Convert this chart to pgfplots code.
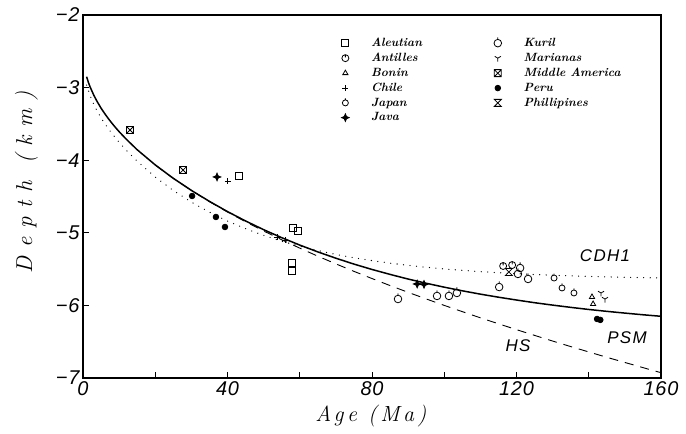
\documentclass[border=0pt]{standalone}
\usepackage{fontspec}
\usepackage{pgfplots}
\pgfplotsset{compat=1.18}
\usetikzlibrary{plotmarks}

\newfontfamily\tickfont[LetterSpace=4]{Liberation Sans}
\newfontfamily\curvefont[LetterSpace=8]{Liberation Sans}
\newfontfamily\ylabfont[LetterSpace=38]{Latin Modern Roman}
\newfontfamily\xlabfont[LetterSpace=16]{Latin Modern Roman}

% square with both diagonals
\pgfdeclareplotmark{xsquare}{%
  \pgfpathrectangle{\pgfqpoint{-\pgfplotmarksize}{-\pgfplotmarksize}}{\pgfqpoint{2\pgfplotmarksize}{2\pgfplotmarksize}}%
  \pgfpathmoveto{\pgfqpoint{-\pgfplotmarksize}{-\pgfplotmarksize}}%
  \pgfpathlineto{\pgfqpoint{\pgfplotmarksize}{\pgfplotmarksize}}%
  \pgfpathmoveto{\pgfqpoint{-\pgfplotmarksize}{\pgfplotmarksize}}%
  \pgfpathlineto{\pgfqpoint{\pgfplotmarksize}{-\pgfplotmarksize}}%
  \pgfusepathqstroke}
% hourglass
\pgfdeclareplotmark{hourglass}{%
  \pgfpathmoveto{\pgfqpoint{-\pgfplotmarksize}{\pgfplotmarksize}}%
  \pgfpathlineto{\pgfqpoint{\pgfplotmarksize}{\pgfplotmarksize}}%
  \pgfpathlineto{\pgfqpoint{-\pgfplotmarksize}{-\pgfplotmarksize}}%
  \pgfpathlineto{\pgfqpoint{\pgfplotmarksize}{-\pgfplotmarksize}}%
  \pgfpathclose
  \pgfusepathqstroke}
% filled four-point star
\pgfdeclareplotmark{star4}{%
  \pgfpathmoveto{\pgfqpoint{0pt}{\pgfplotmarksize}}%
  \pgfpathlineto{\pgfqpoint{0.3\pgfplotmarksize}{0.3\pgfplotmarksize}}%
  \pgfpathlineto{\pgfqpoint{\pgfplotmarksize}{0pt}}%
  \pgfpathlineto{\pgfqpoint{0.3\pgfplotmarksize}{-0.3\pgfplotmarksize}}%
  \pgfpathlineto{\pgfqpoint{0pt}{-\pgfplotmarksize}}%
  \pgfpathlineto{\pgfqpoint{-0.3\pgfplotmarksize}{-0.3\pgfplotmarksize}}%
  \pgfpathlineto{\pgfqpoint{-\pgfplotmarksize}{0pt}}%
  \pgfpathlineto{\pgfqpoint{-0.3\pgfplotmarksize}{0.3\pgfplotmarksize}}%
  \pgfpathclose
  \pgfusepathqfillstroke}
% circle with an inner bar at the top
\pgfdeclareplotmark{obar}{%
  \pgfpathcircle{\pgfpointorigin}{\pgfplotmarksize}%
  \pgfpathmoveto{\pgfqpoint{0pt}{\pgfplotmarksize}}%
  \pgfpathlineto{\pgfqpoint{0pt}{0.2\pgfplotmarksize}}%
  \pgfusepathqstroke}
% circle with a tick above
\pgfdeclareplotmark{otick}{%
  \pgfpathcircle{\pgfpointorigin}{\pgfplotmarksize}%
  \pgfpathmoveto{\pgfqpoint{0pt}{\pgfplotmarksize}}%
  \pgfpathlineto{\pgfqpoint{0pt}{1.5\pgfplotmarksize}}%
  \pgfusepathqstroke}

\begin{document}
\begin{tikzpicture}
\begin{axis}[
  width=578bp, height=363bp, scale only axis,
  xmin=0, xmax=160, ymin=-7, ymax=-2,
  xtick={0,20,...,160}, xticklabels={0,,40,,80,,120,,160},
  ytick={-7,-6,-5,-4,-3,-2}, yticklabels={−7,−6,−5,−4,−3,−2},
  tick align=inside, tick pos=left, major tick length=6bp,
  axis line style={line width=1.3bp},
  every tick/.style={line width=0.8bp, black},
  tick label style={font=\tickfont\itshape\fontsize{20}{20}\selectfont},
  xlabel={Age (Ma)}, ylabel={Depth (km)},
  xlabel style={at={(axis description cs:0.498,-0.1185)}, anchor=base,
    font=\xlabfont\itshape\fontsize{22}{22}\selectfont},
  ylabel style={at={(axis description cs:-0.088,0.54)}, anchor=base,
    font=\ylabfont\itshape\fontsize{23}{23}\selectfont},
  legend columns=6, transpose legend, legend cell align=left,
  legend style={draw=none, fill=none, inner sep=0pt, row sep=1bp,
    at={(axis description cs:0.447,0.9422)}, anchor=north west,
    font=\bfseries\itshape\fontsize{12}{16.5}\selectfont,
    /tikz/every odd column/.append style={column sep=20bp},
    /tikz/every even column/.append style={column sep=70bp}},
  mark options={solid, line width=0.8bp, black},
]
% half-space cooling
\addplot[forget plot, black, line width=0.9bp, dash pattern=on 9bp off 7bp] coordinates {
(20,-4.065)(25,-4.250)(30,-4.417)(35,-4.571)(40,-4.714)(45,-4.848)(50,-4.975)
(55,-5.096)(60,-5.211)(65,-5.322)(70,-5.428)(75,-5.531)(80,-5.630)(85,-5.727)
(90,-5.820)(95,-5.911)(100,-6.000)(105,-6.086)(110,-6.171)(115,-6.253)(120,-6.334)
(125,-6.413)(130,-6.491)(135,-6.567)(140,-6.641)(145,-6.715)(150,-6.786)
(155,-6.857)(160,-6.927)};
% GDH1 plate model
\addplot[forget plot, black, line width=1.3bp, line cap=round, dash pattern=on 0bp off 6.5bp] coordinates {
(1,-2.965)(2,-3.116)(3,-3.232)(4,-3.330)(5,-3.416)(6,-3.494)(8,-3.632)(10,-3.754)
(12,-3.864)(15,-4.014)(20,-4.232)(25,-4.417)(30,-4.577)(35,-4.716)(40,-4.838)
(45,-4.943)(50,-5.035)(55,-5.115)(60,-5.185)(65,-5.245)(70,-5.298)(75,-5.344)
(80,-5.383)(85,-5.418)(90,-5.448)(95,-5.475)(100,-5.498)(105,-5.517)(110,-5.535)
(115,-5.550)(120,-5.563)(125,-5.574)(130,-5.584)(135,-5.593)(140,-5.601)
(145,-5.607)(150,-5.613)(155,-5.618)(160,-5.622)};
% PSM plate model
\addplot[forget plot, black, line width=1.5bp] coordinates {
(1,-2.850)(1.5,-2.929)(2,-2.995)(3,-3.106)(4,-3.200)(5,-3.283)(6,-3.357)(7,-3.426)
(8,-3.490)(9,-3.550)(10,-3.607)(12,-3.712)(15,-3.856)(20,-4.065)(25,-4.250)
(30,-4.416)(35,-4.567)(40,-4.708)(45,-4.837)(50,-4.957)(55,-5.067)(60,-5.169)
(65,-5.263)(70,-5.350)(75,-5.431)(80,-5.505)(85,-5.573)(90,-5.637)(95,-5.695)
(100,-5.749)(105,-5.799)(110,-5.845)(115,-5.887)(120,-5.926)(125,-5.963)
(130,-5.996)(135,-6.027)(140,-6.056)(145,-6.082)(150,-6.106)(155,-6.129)(160,-6.150)};

\addplot[only marks, mark=square, mark size=3.5bp] coordinates {
(43.2,-4.22)(58.1,-4.93)(59.5,-4.98)(57.8,-5.42)(57.8,-5.53)};
\addlegendentry{Aleutian}
\addplot[only marks, mark=obar, mark size=3.5bp] coordinates {
(116.3,-5.457)(118.8,-5.444)};
\addlegendentry{Antilles}
\addplot[only marks, mark=triangle, mark size=3bp] coordinates {
(140.9,-5.884)(141.2,-5.981)};
\addlegendentry{Bonin}
\addplot[only marks, mark=+, mark size=3bp] coordinates {
(40.1,-4.287)(53.7,-5.06)(56.0,-5.10)};
\addlegendentry{Chile}
\addplot[only marks, mark=otick, mark size=3bp] coordinates {
(130.4,-5.623)(132.6,-5.760)(135.9,-5.829)};
\addlegendentry{Japan}
\addplot[only marks, mark=star4, mark size=3.8bp] coordinates {
(37.1,-4.231)(92.5,-5.705)(94.4,-5.71)};
\addlegendentry{Java}
\addplot[only marks, mark=otick, mark size=3.8bp] coordinates {
(87.2,-5.912)(98.0,-5.870)(101.3,-5.870)(103.5,-5.829)(115.2,-5.747)
(121.0,-5.485)(120.4,-5.567)(123.2,-5.636)};
\addlegendentry{Kuril}
\addplot[only marks, mark=Mercedes star flipped, mark size=3.5bp] coordinates {
(143.4,-5.829)(144.5,-5.912)};
\addlegendentry{Marianas}
\addplot[only marks, mark=xsquare, mark size=3.5bp] coordinates {
(13.0,-3.584)(27.7,-4.135)};
\addlegendentry{Middle America}
\addplot[only marks, mark=*, mark size=2.8bp] coordinates {
(30.2,-4.493)(36.8,-4.782)(39.3,-4.920)(142.3,-6.187)(143.2,-6.20)};
\addlegendentry{Peru}
\addplot[only marks, mark=hourglass, mark size=3.5bp] coordinates {
(117.9,-5.540)};
\addlegendentry{Phillipines}

\node[font=\curvefont\itshape\fontsize{17}{17}\selectfont] at (axis cs:144.5,-5.31) {CDH1};
\node[font=\curvefont\itshape\fontsize{17}{17}\selectfont] at (axis cs:150.6,-6.44) {PSM};
\node[font=\curvefont\itshape\fontsize{17}{17}\selectfont] at (axis cs:120.4,-6.55) {HS};
\end{axis}
% page frame around the axis
\path ([xshift=-83bp,yshift=-56bp]current axis.south west)
  rectangle ([xshift=25bp,yshift=15bp]current axis.north east);
\end{tikzpicture}
\end{document}
